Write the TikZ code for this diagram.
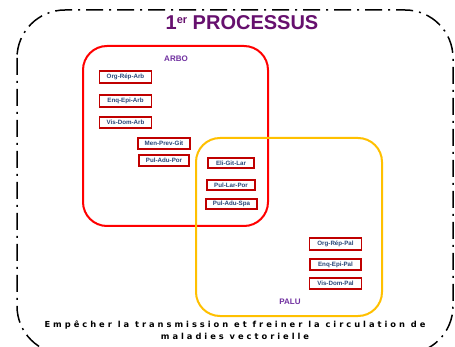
\documentclass[tikz,border=0pt]{standalone}
\usepackage{fontspec}
\setmainfont{Liberation Sans}
\newfontfamily\verdanafont[LetterSpace=36]{DejaVu Sans}
\definecolor{titlepurple}{RGB}{102,16,110}
\definecolor{labpurple}{RGB}{112,48,160}
\definecolor{boxred}{RGB}{192,0,0}
\definecolor{boxblue}{RGB}{40,70,120}
\definecolor{palyellow}{RGB}{255,192,0}
\tikzset{
  code/.style={draw=boxred, line width=1.6pt, fill=white, text=boxblue,
    font=\fontsize{6.2}{7}\selectfont\bfseries, minimum width=52pt, minimum height=11.5pt, inner sep=1pt},
  grouplab/.style={text=labpurple, font=\fontsize{8}{9}\selectfont\bfseries},
  outerline/.style={line width=1.5pt, dash pattern=on 17pt off 6pt on 2pt off 6pt, rounded corners=48pt},
}
\begin{document}
\begin{tikzpicture}[x=1pt,y=-1pt]
\useasboundingbox (0,0) rectangle (455,347);
\clip (0,0) rectangle (455,347);
\fill[white] (0,0) rectangle (455,347);
\draw[outerline] (17,10) rectangle (453,354);
\node[text=titlepurple, font=\fontsize{20}{22}\selectfont\bfseries] (title) at (242,23) {1\raisebox{6.5pt}{\fontsize{11}{11}\selectfont er} PROCESSUS};
\draw[red, line width=2pt, rounded corners=24pt] (83,46) rectangle (268,226);
\draw[palyellow, line width=2pt, rounded corners=24pt] (196,138) rectangle (382,316);
\node[grouplab] (arbo) at (176,59) {ARBO};
\node[grouplab] (palu) at (290,302) {PALU};
\node[code] (b1) at (125.5,77) {Org-Rép-Arb};
\node[code] (b2) at (125.5,101) {Enq-Epi-Arb};
\node[code] (b3) at (125.5,122.5) {Vis-Dom-Arb};
\node[code] (b4) at (164,143.5) {Men-Prev-Git};
\node[code, minimum width=50pt] (b5) at (164,160.5) {Pul-Adu-Por};
\node[code, minimum width=46pt, minimum height=10.5pt] (b6) at (231,163) {Eli-Git-Lar};
\node[code, minimum width=48pt, minimum height=10.5pt] (b7) at (231,185) {Pul-Lar-Por};
\node[code, minimum width=51pt, minimum height=10.5pt] (b8) at (231.5,204) {Pul-Adu-Spa};
\node[code] (b9) at (335.5,244) {Org-Rép-Pal};
\node[code, minimum width=51pt] (b10) at (335.5,264.5) {Enq-Epi-Pal};
\node[code] (b11) at (335.5,283.5) {Vis-Dom-Pal};
\node[align=center, font=\verdanafont\fontsize{8.3}{12}\selectfont\bfseries] (goal) at (235,330) {Empêcher la transmission et freiner la circulation de\\maladies vectorielle};
\end{tikzpicture}
\end{document}
